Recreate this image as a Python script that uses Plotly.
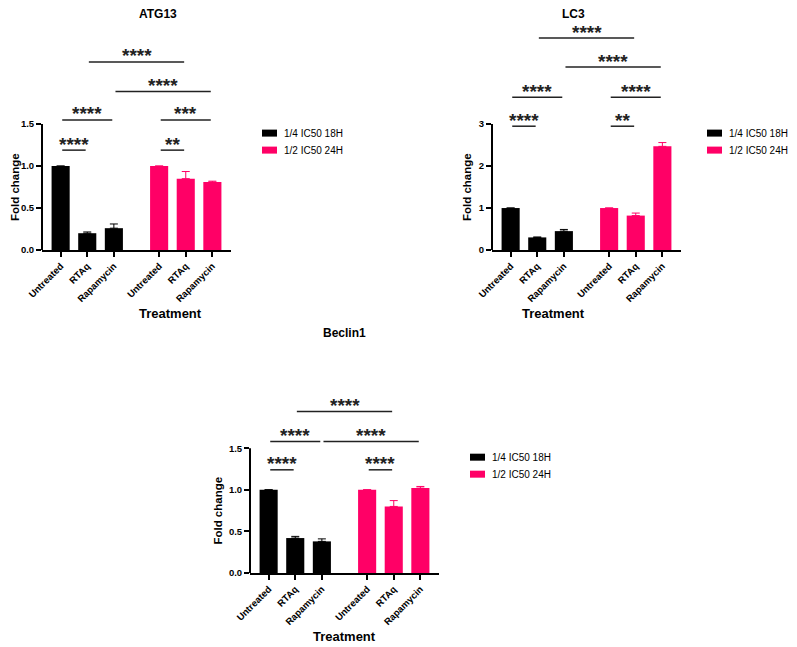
import plotly.graph_objects as go

# --- data -----------------------------------------------------------------
groups = ["Untreated", "RTAq", "Rapamycin"]
series_names = ["1/4 IC50 18H", "1/2 IC50 24H"]
series_colors = ["#000000", "#FF0066"]

atg13_18h = [1.00, 0.20, 0.26]
atg13_18h_err = [0.0, 0.015, 0.05]
atg13_24h = [1.00, 0.85, 0.81]
atg13_24h_err = [0.0, 0.085, 0.01]

lc3_18h = [1.00, 0.30, 0.45]
lc3_18h_err = [0.0, 0.01, 0.04]
lc3_24h = [1.00, 0.82, 2.47]
lc3_24h_err = [0.0, 0.06, 0.09]

beclin_18h = [1.00, 0.42, 0.38]
beclin_18h_err = [0.0, 0.02, 0.03]
beclin_24h = [1.00, 0.80, 1.02]
beclin_24h_err = [0.0, 0.07, 0.02]

# comparisons: (bar a, bar b, label, bracket height in y units); bars 0-2 = 18H, 3-5 = 24H
atg13_stats = [(0, 1, "****", 1.19), (0, 2, "****", 1.55), (1, 4, "****", 2.24),
               (2, 5, "****", 1.89), (3, 4, "**", 1.19), (3, 5, "***", 1.55)]
lc3_stats = [(0, 1, "****", 2.95), (0, 2, "****", 3.64), (1, 4, "****", 5.05),
             (2, 5, "****", 4.36), (3, 4, "**", 2.95), (3, 5, "****", 3.64)]
beclin_stats = [(0, 1, "****", 1.24), (0, 2, "****", 1.58), (1, 4, "****", 1.94),
                (2, 5, "****", 1.58), (3, 4, "****", 1.24)]

FONT = "Arial, Liberation Sans, sans-serif"
W, H = 797, 647
PAGE_OFFSET = 8          # default <body> margin of the written page
POS_18 = [0, 1, 2]
POS_24 = [3.7, 4.7, 5.7]
XRANGE = [-0.7, 6.4]


def px_x(p):
    return (p - PAGE_OFFSET) / W


def px_y(p):
    return 1 - (p - PAGE_OFFSET) / H


fig = go.Figure()
shapes, annotations = [], []


def add_panel(n, title, s18, e18, s24, e24, stats, yticks, yticklabels, yrange,
              left_px, zero_px, top_px, title_px, legend_gap=31):
    sfx = "" if n == 1 else str(n)
    xa, ya = "x" + sfx, "y" + sfx
    right_px = left_px + 189
    for pos, vals, errs, col in [(POS_18, s18, e18, series_colors[0]),
                                 (POS_24, s24, e24, series_colors[1])]:
        fig.add_trace(go.Bar(
            x=pos, y=vals, width=0.68, marker=dict(color=col, line=dict(width=0)),
            error_y=dict(type="data", array=errs, arrayminus=[0] * len(errs),
                         symmetric=False, color=col, thickness=1, width=4),
            xaxis=xa, yaxis=ya, showlegend=False,
        ))
    fig.update_layout(**{
        "xaxis" + sfx: dict(
            domain=[px_x(left_px), px_x(right_px)], anchor=ya, range=XRANGE,
            automargin=False,
            tickvals=POS_18 + POS_24, ticktext=groups * 2, tickangle=-45,
            showline=True, linewidth=2, linecolor="black", ticks="outside",
            ticklen=5, tickwidth=1.5, tickcolor="black", showgrid=False, zeroline=False,
            tickfont=dict(family=FONT, size=9.5, color="black", weight="bold"),
        ),
        "yaxis" + sfx: dict(
            domain=[px_y(zero_px), px_y(top_px)], anchor=xa, range=yrange,
            automargin=False,
            tickvals=yticks, ticktext=yticklabels, ticks="outside", ticklen=5,
            tickwidth=2, tickcolor="black", showline=False, showgrid=False,
            zeroline=False,
            tickfont=dict(family=FONT, size=9.5, color="black", weight="bold"),
        ),
    })
    ymax = yticks[-1]
    # y axis line only up to the last tick
    shapes.append(dict(type="line", xref=xa + " domain", yref=ya, x0=0, x1=0,
                       y0=0, y1=ymax, line=dict(color="black", width=2)))
    # significance brackets
    allpos = POS_18 + POS_24
    for a, b, lab, h in stats:
        shapes.append(dict(type="line", xref=xa, yref=ya, x0=allpos[a] + 0.06,
                           x1=allpos[b] - 0.06, y0=h, y1=h,
                           line=dict(color="#222222", width=1.5)))
        annotations.append(dict(x=(allpos[a] + allpos[b]) / 2, y=h, xref=xa, yref=ya,
                                text=lab, showarrow=False, yanchor="middle", yshift=6,
                                font=dict(family=FONT, size=19, color="#222222",
                                          weight="bold")))
    mid_px = (left_px + right_px) / 2
    axis_top_px = zero_px - (zero_px - top_px) * ymax / yrange[1]
    annotations.append(dict(x=px_x(mid_px), y=px_y(title_px), xref="paper", yref="paper",
                            text=title, showarrow=False, yanchor="middle",
                            font=dict(family=FONT, size=12, color="black", weight="bold")))
    annotations.append(dict(x=px_x(mid_px), y=px_y(zero_px + 63), xref="paper",
                            yref="paper", text="Treatment", showarrow=False,
                            yanchor="middle",
                            font=dict(family=FONT, size=13, color="black", weight="bold")))
    ytitle_px = max(left_px - (25 if ymax >= 3 else 32), PAGE_OFFSET + 7)
    annotations.append(dict(x=px_x(ytitle_px),
                            y=px_y((zero_px + axis_top_px) / 2), xref="paper",
                            yref="paper", text="Fold change", showarrow=False,
                            textangle=-90, xanchor="center", yanchor="middle",
                            font=dict(family=FONT, size=11.5, color="black", weight="bold")))
    # legend
    for i, (name, col) in enumerate(zip(series_names, series_colors)):
        cy = axis_top_px + 9 + 17 * i
        shapes.append(dict(type="rect", xref="paper", yref="paper",
                           x0=px_x(right_px + legend_gap), x1=px_x(right_px + legend_gap + 15),
                           y0=px_y(cy + 3.5), y1=px_y(cy - 3.5),
                           fillcolor=col, line=dict(width=0)))
        annotations.append(dict(x=px_x(right_px + legend_gap + 20), y=px_y(cy), xref="paper",
                                yref="paper", text=name, showarrow=False,
                                xanchor="left", yanchor="middle",
                                font=dict(family=FONT, size=10, color="black")))


add_panel(1, "ATG13", atg13_18h, atg13_18h_err, atg13_24h, atg13_24h_err, atg13_stats,
          [0, 0.5, 1.0, 1.5], ["0.0", "0.5", "1.0", "1.5"], [0, 2.8], 42, 250, 15, 14)
add_panel(2, "LC3", lc3_18h, lc3_18h_err, lc3_24h, lc3_24h_err, lc3_stats,
          [0, 1, 2, 3], ["0", "1", "2", "3"], [0, 5.6], 492, 250, 15, 14, legend_gap=26)
add_panel(3, "Beclin1", beclin_18h, beclin_18h_err, beclin_24h, beclin_24h_err,
          beclin_stats, [0, 0.5, 1.0, 1.5], ["0.0", "0.5", "1.0", "1.5"], [0, 2.8],
          250, 573, 340, 333)

fig.update_layout(
    width=W, height=H, margin=dict(l=0, r=0, t=0, b=0),
    plot_bgcolor="white", paper_bgcolor="white", barmode="overlay",
    shapes=shapes, annotations=annotations, showlegend=False,
)
fig.write_html("out.html")
